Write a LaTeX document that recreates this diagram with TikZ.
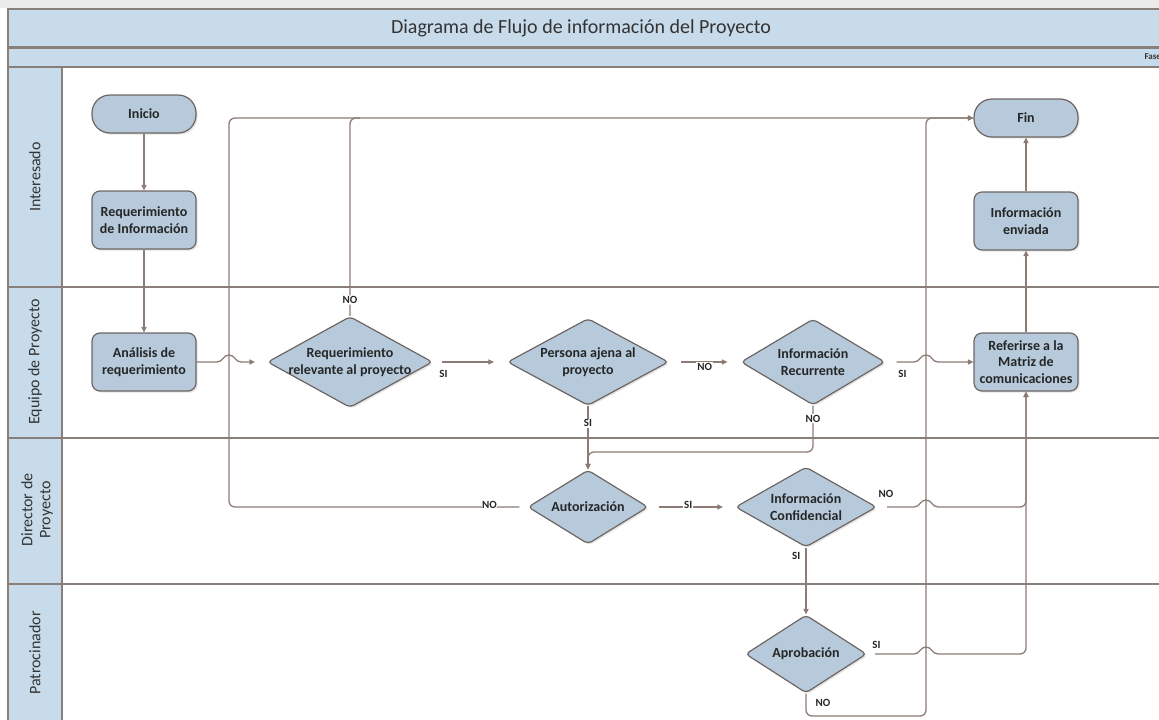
\documentclass[tikz,border=0pt]{standalone}
\usepackage{fontspec}
\setmainfont{Carlito}
\usetikzlibrary{arrows.meta,positioning,shapes.geometric,shadows}

\definecolor{bandblue}{HTML}{C8DBEA}
\definecolor{shapeblue}{HTML}{B6CADB}
\definecolor{shapeedge}{HTML}{6E6562}
\definecolor{flowbrown}{HTML}{8D7B75}
\definecolor{lanegray}{HTML}{887E7A}

\begin{document}
\begin{tikzpicture}[
    x=1pt, y=-1pt,
    shapebase/.style={draw=shapeedge, line width=1.2pt, fill=shapeblue, text=black!85, align=center, inner sep=2pt, font=\fontsize{14}{16.5}\selectfont\bfseries, drop shadow={opacity=0.22, shadow xshift=1.6pt, shadow yshift=-1.6pt}},
    terminal/.style={shapebase, rectangle, rounded corners=18pt, minimum width=104pt, minimum height=38pt},
    box/.style={shapebase, rectangle, rounded corners=8pt, minimum width=104pt, minimum height=58pt},
    decision/.style={shapebase, diamond, rounded corners=4pt, inner sep=0pt},
    dtext/.style={text=black!85, align=center, font=\fontsize{14}{16.5}\selectfont\bfseries},
    arrow/.style={draw=flowbrown, line width=1.3pt, -{Triangle[length=5.5pt, width=5pt]}},
    link/.style={draw=flowbrown, line width=1.3pt},
    answer/.style={text=black!85, inner sep=1pt, font=\fontsize{11}{12}\selectfont\bfseries},
    lanetext/.style={rotate=90, align=center, text=black!80, font=\fontsize{16}{18}\selectfont},
    laneline/.style={draw=lanegray, line width=2pt}
]
\useasboundingbox (0,0) rectangle (1159,720);

% bands and lanes
\fill[black!8] (0,0) rectangle (1159,8);
\draw[laneline, fill=bandblue] (8,9) rectangle (1175,47);
\draw[laneline, fill=bandblue] (8,48) rectangle (1175,67);
\draw[laneline, fill=bandblue] (8,67) rectangle (62,730);
\foreach \y in {287,438,584}
    \draw[laneline] (8,\y) -- (1175,\y);

\node[font=\fontsize{20}{24}\selectfont, text=black!80] (title) at (581,28) {Diagrama de Flujo de información del Proyecto};
\node[anchor=west, font=\fontsize{9}{10}\selectfont\bfseries, text=black!80] (fase) at (1141,57) {Fase};

\node[lanetext] (interesado) at (35,177) {Interesado};
\node[lanetext] (equipo) at (35,362) {Equipo de Proyecto};
\node[lanetext] (director) at (37,510) {Director de\\Proyecto};
\node[lanetext] (patrocinador) at (35,653) {Patrocinador};

% shapes
\node[terminal] (inicio) at (144,114) {Inicio};
\node[box, below=56.8pt of inicio] (reqinfo) {Requerimiento\\de Información};
\node[box, below=82.8pt of reqinfo] (analisis) {Análisis de\\requerimiento};
\node[terminal] (fin) at (1026,118) {Fin};
\node[box, below=53.8pt of fin] (infoenv) {Información\\enviada};
\node[box, below=81.8pt of infoenv] (referir) {Referirse a la\\Matriz de\\comunicaciones};

\node[decision, minimum width=165pt, minimum height=91pt, label={[dtext]center:Requerimiento\\relevante al proyecto}] (relev) at (350,362) {};
\node[decision, minimum width=161pt, minimum height=87pt, label={[dtext]center:Persona ajena al\\proyecto}] (persona) at (588,362) {};
\node[decision, minimum width=144pt, minimum height=86pt, label={[dtext]center:Información\\Recurrente}] (recurrente) at (813,362) {};
\node[decision, minimum width=120pt, minimum height=74pt, label={[dtext]center:Autorización}] (autorizacion) at (588,507) {};
\node[decision, minimum width=141pt, minimum height=80pt, label={[dtext]center:Información\\Confidencial}] (confidencial) at (806,507) {};
\node[decision, minimum width=121pt, minimum height=78pt, label={[dtext]center:Aprobación}] (aprobacion) at (806,654) {};

% connectors
\draw[arrow] (inicio) -- (reqinfo);
\draw[arrow] (reqinfo) -- (analisis);
\draw[arrow, shorten >=12pt] (analisis.east) -- (217,362) .. controls (223,362) and (223,355) .. (229,355) .. controls (235,355) and (235,362) .. (241,362) -- (relev.west);
\draw[arrow, shorten <=9pt, shorten >=13pt] (relev.east) -- node[answer, pos=0.14, below=7pt] {SI} (persona.west);
\draw[arrow, rounded corners=6pt] (relev.north) -- node[answer, fill=white, pos=0.08] {NO} (350,118) -- (fin.west);
\draw[link, rounded corners=6pt, shorten <=8pt] (autorizacion.west) -- node[answer, fill=white, pos=0.127, yshift=2pt] {NO} (229,507) -- (229,118) -- (360,118);
\draw[arrow, shorten <=10pt, shorten >=12pt] (autorizacion.east) -- node[answer, fill=white, pos=0.46, yshift=2pt] {SI} (confidencial.west);
\draw[arrow, shorten <=12pt, shorten >=13pt] (persona.east) -- node[answer, fill=white, pos=0.5, yshift=-5pt] {NO} (recurrente.west);
\draw[arrow] (persona.south) -- node[answer, fill=white, pos=0.27] {SI} (autorizacion.north);
\draw[arrow, rounded corners=6pt] (recurrente.south) -- node[answer, fill=white, pos=0.28] {NO} (813,452) -- (588,452) -- (autorizacion.north);
\draw[arrow, shorten <=11pt] (recurrente.east) -- node[answer, pos=0.59, below=7pt] {SI} (914,362) .. controls (920,362) and (920,355) .. (926,355) .. controls (932,355) and (932,362) .. (938,362) -- (referir.west);
\draw[arrow] (referir) -- (infoenv);
\draw[arrow] (infoenv) -- (fin);
\draw[arrow, shorten <=10pt] (confidencial.east) -- node[answer, pos=0.24, above=8pt] {NO} (914,507) .. controls (920,507) and (920,500) .. (926,500) .. controls (932,500) and (932,507) .. (938,507) -- (944,507) [rounded corners=6pt] -- (1026,507) -- (referir.south);
\draw[arrow] (confidencial.south) -- node[answer, pos=0.12, left=4pt] {SI} (aprobacion.north);
\draw[arrow, shorten <=8pt] (aprobacion.east) -- node[answer, pos=0.2, above=4pt] {SI} (914,654) .. controls (920,654) and (920,647) .. (926,647) .. controls (932,647) and (932,654) .. (938,654) -- (944,654) [rounded corners=6pt] -- (1026,654) -- (referir.south);
\draw[arrow, rounded corners=6pt] (aprobacion.south) -- node[answer, pos=0.43, right=8pt] {NO} (806,716) -- (926,716) -- (926,118) -- (fin.west);
\end{tikzpicture}
\end{document}
